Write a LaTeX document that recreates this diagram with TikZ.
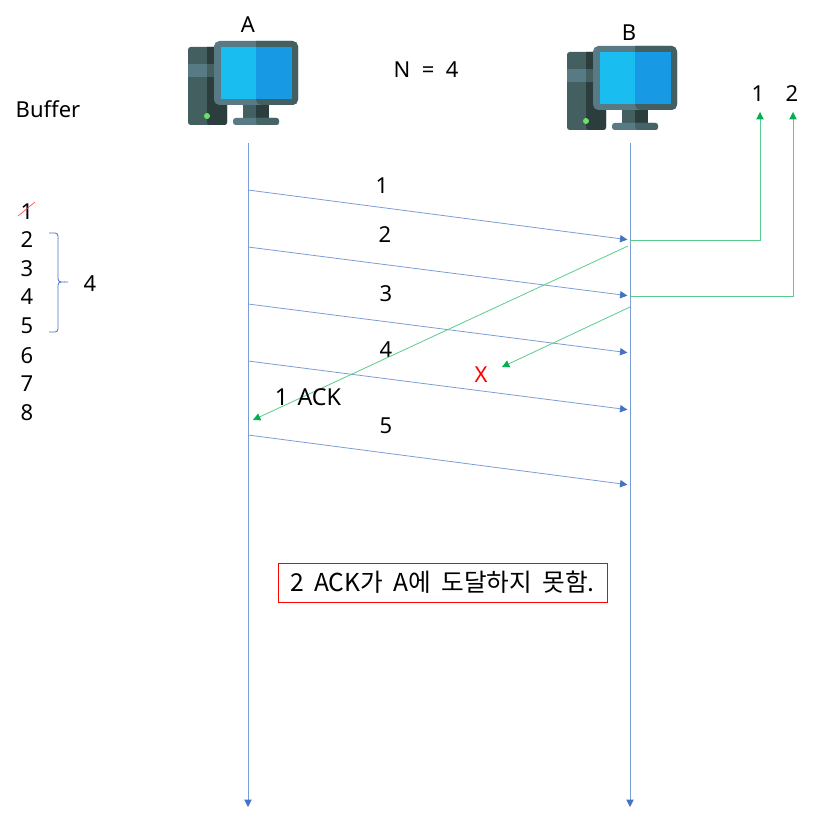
\documentclass[tikz,border=0pt]{standalone}
\usepackage{fontspec}
\setmainfont{Noto Sans}
\newfontfamily\krfont[WordSpace=1.85]{Noto Sans CJK KR}
\usetikzlibrary{arrows.meta}
\definecolor{lineblue}{HTML}{4472C4}
\definecolor{ackgreen}{HTML}{00B050}
\definecolor{caselight}{HTML}{587A85}
\definecolor{casemid}{HTML}{435F60}
\definecolor{casedark}{HTML}{2B3D3D}
\definecolor{screenleft}{HTML}{19BDF0}
\definecolor{screenright}{HTML}{1799E3}
\tikzset{
    lbl/.style={font=\fontsize{16.5}{18}\selectfont,inner sep=0pt,yshift=-0.5pt},
    seg/.style={-{Triangle[length=5.5pt,width=5.5pt,color=lineblue]},lineblue!70,line width=0.6pt},
    pkt/.style={seg,shorten >=2pt},
    ack/.style={-{Triangle[length=5.5pt,width=5.5pt,color=ackgreen]},ackgreen!65,line width=0.6pt},
    computer/.pic={
        % tower
        \fill[casemid,rounded corners=2pt](188,47)rectangle(227,125);
        \fill[casedark,rounded corners=2pt](207,47)--(227,47)--(227,125)--(207,125)[sharp corners]--cycle;
        \fill[caselight](188,64)rectangle(207,77);
        \fill[casemid](207,64)rectangle(227,77);
        \fill[green!70!gray!70](207,116)circle(3);
        % stand
        \fill[casemid](243,105)rectangle(256,118);
        \fill[casedark](256,105)rectangle(269,118);
        \fill[caselight,rounded corners=2pt](233,118)rectangle(279,125);
        \fill[casemid!85!caselight,rounded corners=2pt](256,118)--(279,118)--(279,125)--(256,125)[sharp corners]--cycle;
        % monitor
        \fill[caselight,rounded corners=4pt](214,41)rectangle(298,105);
        \fill[casemid,rounded corners=4pt](256,41)--(298,41)--(298,105)--(256,105)[sharp corners]--cycle;
        \fill[screenleft](220.5,47.5)rectangle(256,99);
        \fill[screenright](256,47.5)rectangle(292,99);
    }
}
\begin{document}
\begin{tikzpicture}[x=0.75pt,y=-0.75pt]
    \useasboundingbox(0,0)rectangle(813,816);
    \pic at (0,0) {computer};
    \pic at (379,5) {computer};
    \node[lbl](hostA)at(248,24){A};
    \node[lbl](hostB)at(629,32){B};
    \node[lbl](winsize)at(426,69){N\ \ =\ \ 4};
    \node[lbl](buffer)at(48,109){Buffer};
    % time lines
    \coordinate(topA)at(248,143);
    \coordinate(botA)at(248,807);
    \coordinate(topB)at(630,143);
    \coordinate(botB)at(630,807);
    \draw[seg](topA)--(botA);
    \draw[seg](topB)--(botB);
    % packets
    \coordinate(a1)at(248,190);
    \coordinate(a2)at(248,247);
    \coordinate(a3)at(248,304);
    \coordinate(a4)at(248,361);
    \coordinate(a5)at(248,435);
    \coordinate(b1)at(630,240);
    \coordinate(b2)at(630,296);
    \coordinate(b3)at(630,353);
    \coordinate(b4)at(630,410);
    \coordinate(b5)at(630,485);
    \draw[pkt](a1)--(b1);
    \draw[pkt](a2)--(b2);
    \draw[pkt](a3)--(b3);
    \draw[pkt](a4)--(b4);
    \draw[pkt](a5)--(b5);
    \node[lbl](p1)at(382,185){1};
    \node[lbl](p2)at(385,234){2};
    \node[lbl](p3)at(386,293){3};
    \node[lbl](p4)at(386,349){4};
    \node[lbl](p5)at(386,425){5};
    % delivered to the upper layer
    \node[lbl](up1)at(758,93){1};
    \node[lbl](up2)at(792,93){2};
    \coordinate(upend1)at(760,112);
    \coordinate(upend2)at(793,112);
    \draw[ack](b1)-|(upend1);
    \draw[ack](b2)-|(upend2);
    % acks
    \coordinate(ack1s)at(628,246);
    \coordinate(ack1e)at(253,420);
    \coordinate(ack2s)at(630,307);
    \coordinate(ack2e)at(502,367);
    \draw[ack](ack1s)--(ack1e);
    \draw[ack](ack2s)--(ack2e);
    \node[lbl,font=\fontsize{17.5}{18}\selectfont](ack1)at(308,397){1\hspace{0.4em}ACK};
    \node[lbl,red](lost)at(481,374){X};
    % buffer contents
    \node[lbl](n1)at(27,211){1};
    \node[lbl](n2)at(27,239){2};
    \node[lbl](n3)at(27,268){3};
    \node[lbl](n4)at(27,296){4};
    \node[lbl](n5)at(27,325){5};
    \node[lbl](n6)at(27,355){6};
    \node[lbl](n7)at(27,383){7};
    \node[lbl](n8)at(27,412){8};
    \coordinate(strikea)at(18,216);
    \coordinate(strikeb)at(35,202);
    \draw[red!70,line width=0.5pt](strikea)--(strikeb);
    \coordinate(bracetop)at(49,233);
    \coordinate(bracetip)at(68,282);
    \coordinate(bracebot)at(49,332);
    \draw[lineblue,line width=0.6pt](bracetop)--(55,233)to[out=0,in=90](58,236)--(58,279)to[out=-90,in=180](bracetip)to[out=180,in=90](58,285)--(58,329)to[out=-90,in=0](55,332)--(bracebot);
    \node[lbl](wincount)at(90,283){4};
    % note
    \node[draw=red,line width=0.6pt,font=\krfont\fontsize{18.5}{20}\selectfont,minimum width=329*0.75pt,minimum height=39*0.75pt,inner sep=0pt,yshift=0pt](note)at(442.5,582.5){2 ACK가 A에 도달하지 못함.};
\end{tikzpicture}
\end{document}
